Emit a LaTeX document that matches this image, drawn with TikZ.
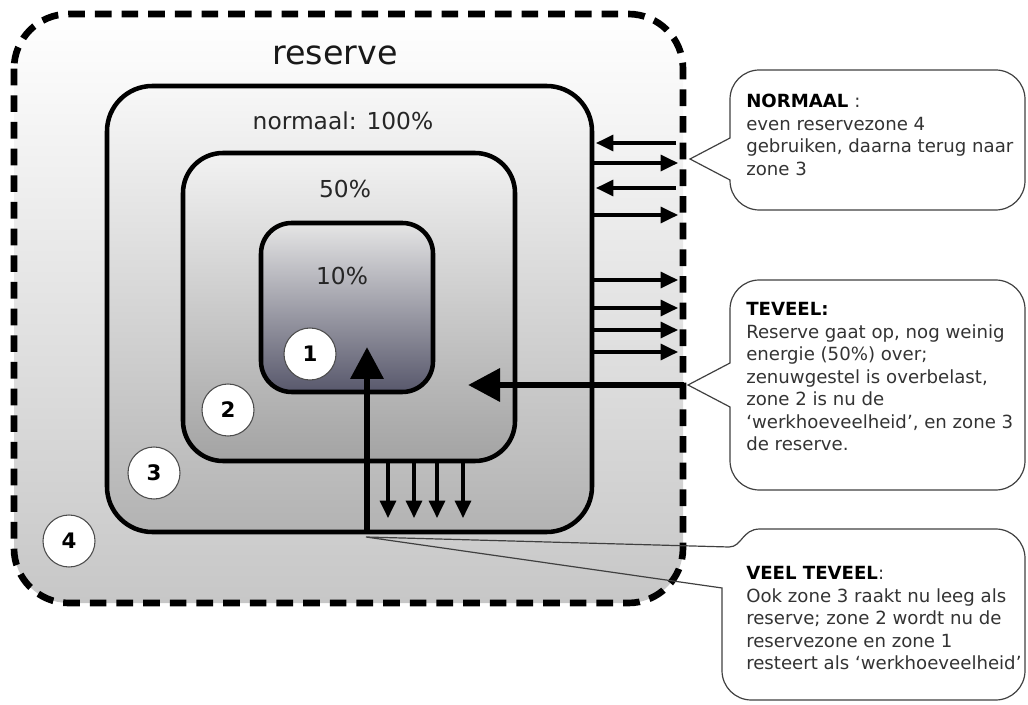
\documentclass[tikz,border=0pt]{standalone}
\usepackage{fontspec}
\setmainfont{DejaVu Sans}
\usetikzlibrary{arrows.meta}
\definecolor{bodytext}{gray}{0.2}
\definecolor{bubbleline}{gray}{0.25}
\definecolor{zoneonebottom}{RGB}{88,88,108}
\begin{document}
\begin{tikzpicture}[x=0.75pt,y=-0.75pt,
  zone/.style={draw,line width=3.4pt},
  zone label/.style={text=black!85,font=\fontsize{17.5}{17.5}\selectfont},
  num node/.style={circle,draw=black!70,line width=0.8pt,fill=white,minimum size=39pt,inner sep=0pt,font=\fontsize{16}{16}\selectfont\bfseries},
  small arrow/.style={line width=2.3pt,-{Triangle[length=13pt,width=12pt]}},
  big arrow/.style={line width=5pt,-{Triangle[length=24pt,width=24pt]}},
  bubble/.style={draw=bubbleline,line width=0.9pt},
  bubble text/.style={anchor=north west,align=left,inner sep=0pt,text=bodytext,font=\fontsize{13.6}{16.9}\selectfont}]

  \useasboundingbox (0,0) rectangle (1028,705);

  \draw[line width=5pt,dash pattern=on 12.5pt off 7.5pt,rounded corners=41pt,top color=white,bottom color=black!22] (14,14) rectangle (683,603);
  \draw[zone,rounded corners=34pt,top color=black!3,bottom color=black!30] (107,86) rectangle (592,532);
  \draw[zone,rounded corners=30pt,top color=black!5,bottom color=black!36] (183,153) rectangle (515,461);
  \draw[zone,rounded corners=23pt,top color=black!10,bottom color=zoneonebottom] (261,223) rectangle (433,392);

  \node[font=\fontsize{25}{25}\selectfont,text=black!90] (reservelabel) at (335,55) {reserve};
  \node[zone label] (normaallabel) at (343,121) {normaal: 100\%};
  \node[zone label] (halflabel) at (345,189) {50\%};
  \node[zone label] (tenlabel) at (342,276) {10\%};

  \node[num node] (z1) at (310,354) {1};
  \node[num node] (z2) at (228,410) {2};
  \node[num node] (z3) at (154,473) {3};
  \node[num node] (z4) at (69,541) {4};

  \foreach \y in {143,188}
    \draw[small arrow] (676,\y) -- (596,\y);
  \foreach \y in {163,215,280,308,330,352}
    \draw[small arrow] (593,\y) -- (678,\y);
  \foreach \x in {388,414,437,463}
    \draw[small arrow] (\x,462) -- (\x,518);
  \draw[big arrow] (684,385) -- (468,385);
  \coordinate (veeltip) at (366,537);
  \draw[big arrow] (367,533) -- (367,347);

  \draw[bubble] (690,159) -- (730,138) [rounded corners=22pt] -- (730,70) -- (1025,70) -- (1025,210) -- (730,210) [sharp corners] -- (730,180) -- cycle;
  \draw[bubble] (688,385) -- (730,363) [rounded corners=22pt] -- (730,280) -- (1025,280) -- (1025,490) -- (730,490) [sharp corners] -- (730,407) -- cycle;
  \draw[bubble] (veeltip) -- (722,588) [rounded corners=22pt] -- (722,700) -- (1025,700) -- (1025,529) [sharp corners] -- (760,529) .. controls (742,529) and (742,547) .. (729,547) -- cycle;

  \node[bubble text] (normaaltext) at (746,94) {\textbf{\color{black}NORMAAL} :\\even reservezone 4\\gebruiken, daarna terug naar\\zone 3};
  \node[bubble text] (teveeltext) at (746,302) {\textbf{\color{black}TEVEEL:}\\Reserve gaat op, nog weinig\\energie (50\%) over;\\zenuwgestel is overbelast,\\zone 2 is nu de\\‘werkhoeveelheid’, en zone 3\\de reserve.};
  \node[bubble text] (veeltext) at (746,566) {\textbf{\color{black}VEEL TEVEEL}:\\Ook zone 3 raakt nu leeg als\\reserve; zone 2 wordt nu de\\reservezone en zone 1\\resteert als ‘werkhoeveelheid’};
\end{tikzpicture}
\end{document}
